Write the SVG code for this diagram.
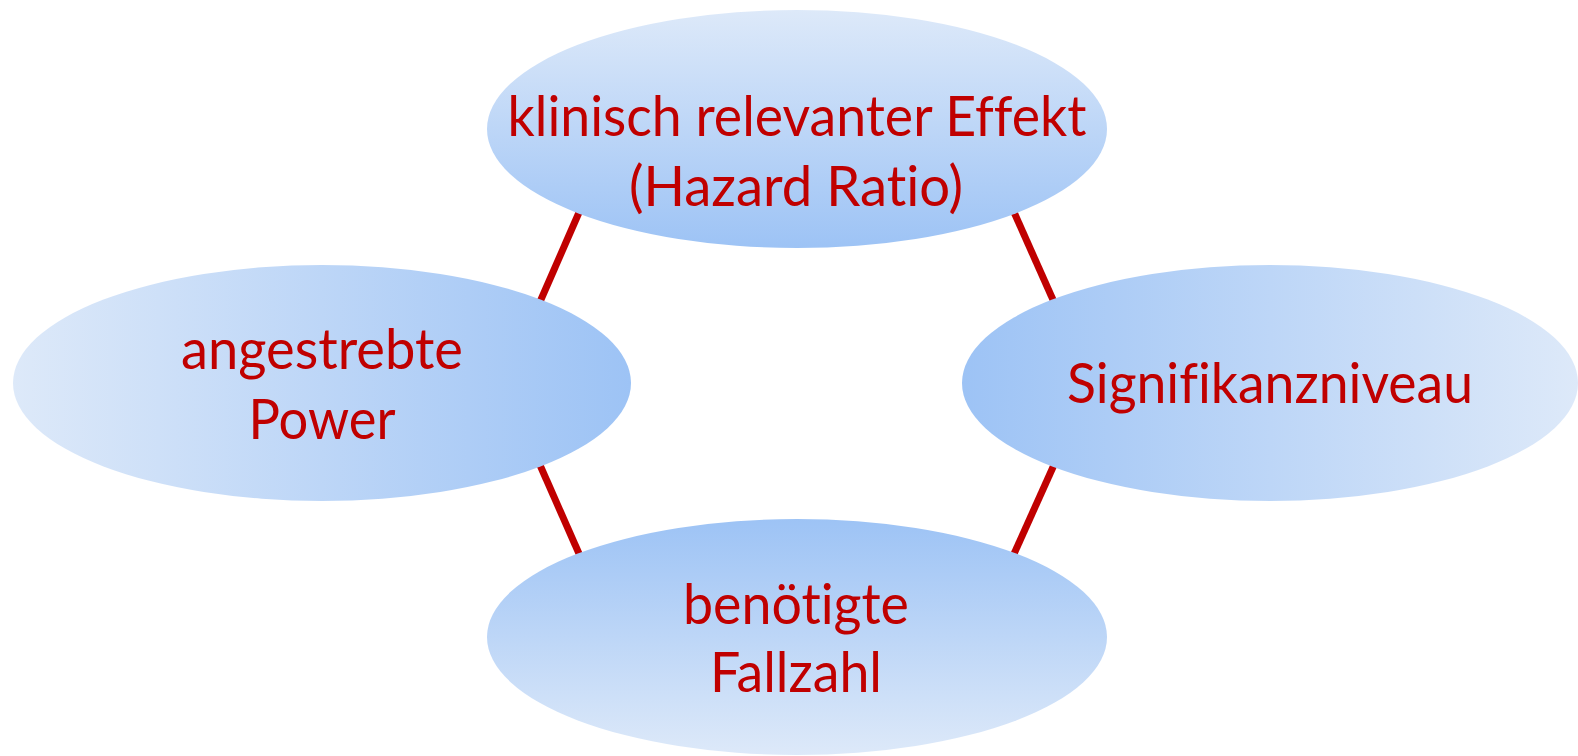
<svg xmlns="http://www.w3.org/2000/svg" width="1578" height="756" viewBox="0 0 1578 756">
<style>
.lbl{font-family:Lato,"Liberation Sans",sans-serif;font-size:56px;fill:#c00000;text-anchor:middle;font-variant-ligatures:none;font-feature-settings:"liga" 0}
.conn{stroke:#c00000;stroke-width:7;fill:none}
</style>
<defs>
<linearGradient id="gDown" x1="0" y1="0" x2="0" y2="1"><stop offset="0" stop-color="#dde9f9"/><stop offset="1" stop-color="#9dc3f5"/></linearGradient>
<linearGradient id="gUp" x1="0" y1="1" x2="0" y2="0"><stop offset="0" stop-color="#dde9f9"/><stop offset="1" stop-color="#9dc3f5"/></linearGradient>
<linearGradient id="gRight" x1="0" y1="0" x2="1" y2="0"><stop offset="0" stop-color="#dde9f9"/><stop offset="1" stop-color="#9dc3f5"/></linearGradient>
<linearGradient id="gLeft" x1="1" y1="0" x2="0" y2="0"><stop offset="0" stop-color="#dde9f9"/><stop offset="1" stop-color="#9dc3f5"/></linearGradient>
</defs>
<g id="connectors">
<line class="conn" x1="584" y1="201" x2="536" y2="311"/>
<line class="conn" x1="1009" y1="201" x2="1058" y2="311"/>
<line class="conn" x1="536" y1="456" x2="584" y2="565"/>
<line class="conn" x1="1058" y1="456" x2="1009" y2="565"/>
</g>
<g id="node-effekt">
<ellipse cx="797" cy="129" rx="310" ry="119" fill="url(#gDown)"/>
<text class="lbl" x="797" y="136" textLength="579" lengthAdjust="spacingAndGlyphs">klinisch relevanter Effekt</text>
<text class="lbl" x="796" y="206" textLength="334" lengthAdjust="spacingAndGlyphs">(Hazard Ratio)</text>
</g>
<g id="node-power">
<ellipse cx="322" cy="383" rx="309" ry="118" fill="url(#gRight)"/>
<text class="lbl" x="322" y="369" textLength="282" lengthAdjust="spacingAndGlyphs">angestrebte</text>
<text class="lbl" x="322" y="439" textLength="147" lengthAdjust="spacingAndGlyphs">Power</text>
</g>
<g id="node-signifikanz">
<ellipse cx="1270" cy="383" rx="308" ry="118" fill="url(#gLeft)"/>
<text class="lbl" x="1270" y="403" textLength="406" lengthAdjust="spacingAndGlyphs">Signifikanzniveau</text>
</g>
<g id="node-fallzahl">
<ellipse cx="797" cy="637" rx="310" ry="118" fill="url(#gUp)"/>
<text class="lbl" x="796" y="624" textLength="226" lengthAdjust="spacingAndGlyphs">benötigte</text>
<text class="lbl" x="796" y="692" textLength="172" lengthAdjust="spacingAndGlyphs">Fallzahl</text>
</g>
</svg>
